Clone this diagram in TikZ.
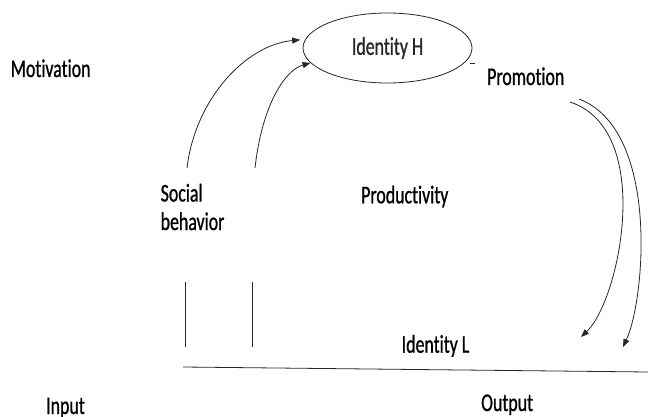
\documentclass[tikz,border=0pt]{standalone}
\usepackage{fontspec}
\setmainfont{Carlito}[FakeStretch=0.7, FakeBold=0.8, Ligatures=NoCommon]
\usepackage{tikz}
\usetikzlibrary{positioning,shapes.geometric,arrows.meta}

\begin{document}
\begin{tikzpicture}[x=1pt, y=-1pt,
                label_text/.style={font=\fontsize{25.5}{28.5}\selectfont, inner sep=0pt, anchor=base west},
                edge/.style={draw, line width=0.8pt, black!85},
                arrow_edge/.style={edge, -{Triangle[length=8pt,width=6pt]}}
            ]
                \useasboundingbox (0,0) rectangle (648,417);

                % --- ELLIPSE ---
                \node[ellipse, draw, line width=0.8pt, black!85, minimum width=169pt, minimum height=70pt,
                      inner sep=0pt, font=\fontsize{25.5}{28.5}\selectfont] (idH) at (387.5,48) {Identity H};
                \draw[edge, line width=0.6pt] (470,63.5) -- (475,63.5);

                % --- TEXTS ---
                \node[label_text] (mot) at (10.5,77) {Motivation};
                \node[label_text] (promo) at (487,85) {Promotion};
                \node[label_text, align=left] (soc) at (160.5,230) {Social\\behavior};
                \node[label_text] (prod) at (361,203.3) {Productivity};
                \node[label_text] (idL) at (401.5,352.7) {Identity L};
                \node[label_text] (out) at (481,411) {Output};
                \node[label_text] (inp) at (46,414) {Input};

                % --- LEFT ARROWS ---
                \coordinate (s1) at (187,168);
                \coordinate (s2) at (255,168);
                \draw[arrow_edge, shorten >=5pt] (s1) .. controls (195,100) and (245,45) .. (idH.174);
                \draw[arrow_edge] (s2) .. controls (262,105) and (285,70) .. (idH.191);

                % --- RIGHT ARROWS ---
                \coordinate (p1) at (570,102);
                \coordinate (p2) at (579,99);
                \coordinate (t1) at (581,337);
                \coordinate (t2) at (623,347);
                \draw[arrow_edge] (p1) .. controls (655,130) and (620,300) .. (t1);
                \draw[arrow_edge] (p2) .. controls (660,130) and (645,300) .. (t2);

                % --- BASE LINES ---
                \coordinate (v1a) at (185,282); \coordinate (v1b) at (185,347);
                \coordinate (v2a) at (252,282); \coordinate (v2b) at (252,347);
                \draw[edge] (v1a) -- (v1b);
                \draw[edge] (v2a) -- (v2b);
                \coordinate (h1) at (183,367); \coordinate (h2) at (648,372);
                \draw[edge] (h1) -- (h2);

            \end{tikzpicture}
\end{document}
